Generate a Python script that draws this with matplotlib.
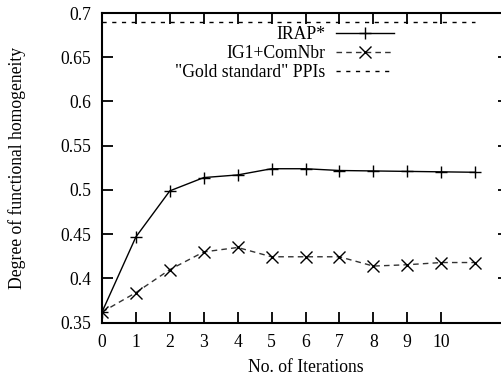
import matplotlib
matplotlib.use("Agg")
import matplotlib.pyplot as plt

iterations = [0, 1, 2, 3, 4, 5, 6, 7, 8, 9, 10, 11]
irap = [0.362, 0.447, 0.499, 0.514, 0.517, 0.524, 0.524, 0.522, 0.5215, 0.521, 0.5205, 0.520]
ig1 = [0.362, 0.384, 0.410, 0.430, 0.435, 0.4245, 0.4245, 0.4245, 0.414, 0.4155, 0.418, 0.418]
gold_x = [0, 11]
gold = [0.69, 0.69]
xticks = [0, 1, 2, 3, 4, 5, 6, 7, 8, 9, 10]
yticks = [0.35, 0.4, 0.45, 0.5, 0.55, 0.6, 0.65, 0.7]
ytick_labels = ["0.35", "0.4", "0.45", "0.5", "0.55", "0.6", "0.65", "0.7"]

plt.rcParams['font.family'] = ['Liberation Serif', 'DejaVu Serif']
plt.rcParams['font.size'] = 12.7

fig = plt.figure(figsize=(5.01, 3.78), dpi=100)
ax = fig.add_axes([102/501, (378-322.7)/378, (509-102)/501, (322.7-13)/378])

ax.plot(iterations, irap, color='black', lw=1.0, marker='+', markersize=9,
        markeredgewidth=1.0, label='IRAP*')
ax.plot(iterations, ig1, color='#333333', lw=1.0, ls=(0, (4, 3)), marker='x',
        markersize=8, markeredgewidth=1.0, markeredgecolor='black', label='IG1+ComNbr')
ax.plot(gold_x, gold, color='black', lw=1.0, ls=(0, (3, 4)), label='"Gold standard" PPIs')

ax.set_xlim(0, 12)
ax.set_ylim(0.35, 0.7)
ax.set_xticks(xticks)
ax.set_yticks(yticks)
ax.set_yticklabels(ytick_labels)
ax.tick_params(direction='in', length=8, width=1.3, top=True, right=True, pad=8)
for s in ax.spines.values():
    s.set_linewidth(1.5)

ax.set_xlabel('No. of Iterations')
ax.xaxis.set_label_coords(0.5, -0.118)
ax.set_ylabel('Degree of functional homogeneity')
ax.yaxis.set_label_coords(-0.187, 0.5)

leg = ax.legend(loc='upper right', bbox_to_anchor=(394/501, 1 - 26/378),
                bbox_transform=fig.transFigure, frameon=False, markerfirst=False,
                numpoints=1, handlelength=3.3, handletextpad=0.6, labelspacing=0.12,
                borderpad=0, borderaxespad=0)

fig.savefig('out.png', dpi=100)
